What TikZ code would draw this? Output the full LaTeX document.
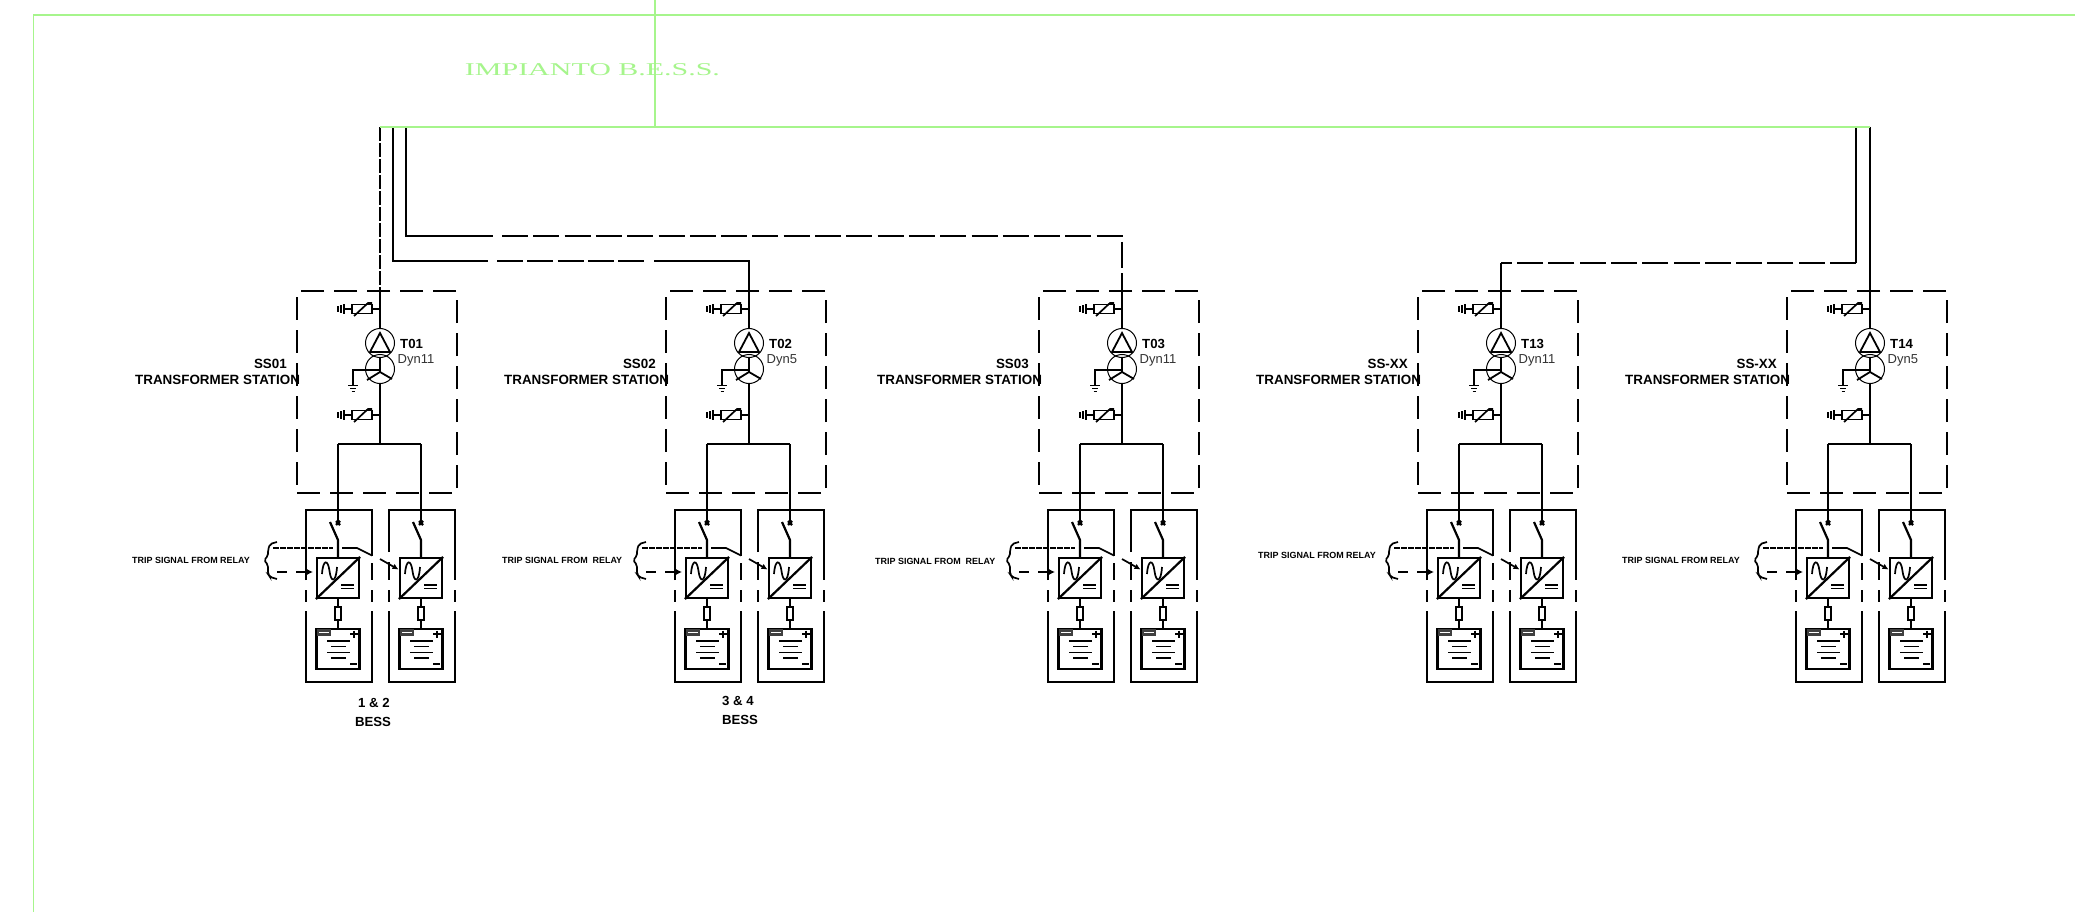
\documentclass[tikz,border=0pt]{standalone}
\usepackage{fontspec}
\setmainfont{Liberation Sans}
\newfontfamily\serifgreen{Liberation Serif}
\usetikzlibrary{arrows.meta}
\definecolor{cadgreen}{HTML}{A6F58C}
\tikzset{
  wire/.style={line width=2.2pt,black},
  thinwire/.style={line width=1.7pt,black},
  feedline/.style={wire,dash pattern=on 26pt off 5.3pt},
  feedlineb/.style={wire,dash pattern=on 26pt off 4.3pt},
  sideline/.style={line width=2.2pt,black},
  stationbox/.style={line width=2.2pt,draw,dash pattern=on 23pt off 10pt},
  frameline/.style={line width=1.3pt,cadgreen},
  winding/.style={circle,draw,line width=1pt,minimum size=29pt,inner sep=0pt},
  squarebox/.style={rectangle,draw,line width=2.2pt,inner sep=0pt},
  lab/.style={inner sep=0pt,font=\fontsize{13.2}{14}\selectfont\bfseries},
  stationlab/.style={inner sep=0pt,font=\fontsize{13.4}{14}\selectfont\bfseries},
  triplab/.style={inner sep=0pt,anchor=west,font=\fontsize{8.95}{10}\selectfont\bfseries},
  arrowline/.style={thinwire,-{Latex[length=6pt,width=6pt]}},
}
% surge arrester: #1 is y, #2 is node name
\newcommand{\surgearrester}[2]{%
  \node[rectangle,draw,line width=1.7pt,minimum width=20pt,minimum height=9pt,inner sep=0pt] (#2) at (362,#1) {};
  \draw[thinwire] (#2.east) -- (380,#1);
  \draw[thinwire] (#2.west) -- (344,#1);
  \draw[thinwire] (354,#1+7) -- (368,#1-6) -- (372,#1-6);
  \draw[thinwire] (344,#1-5) -- (344,#1+5);
  \draw[thinwire] (341,#1-4) -- (341,#1+4);
  \draw[thinwire] (338,#1-3) -- (338,#1+3);
}
% inverter, fuse, battery: #1 x shift, #2 name
\newcommand{\bessunit}[2]{%
  \begin{scope}[xshift=#1pt]
    \node[squarebox,minimum width=42pt,minimum height=40pt] (#2inv) at (338,578) {};
    \node[squarebox,minimum width=43pt,minimum height=40pt] (#2bat) at (338,649) {};
    \node[rectangle,draw,line width=1.3pt,minimum width=6pt,minimum height=13pt,inner sep=0pt] (#2fuse) at (338,613.5) {};
    \coordinate (#2sw) at (338,540);
    \coordinate (#2bus) at (338,444);
    \draw[wire] (#2bus) -- (338,523);
    \draw[wire] (336,521) -- (340,525) (340,521) -- (336,525);
    \draw[wire] (330,522) -- (#2sw) -- (#2inv.north);
    \draw[wire] (#2inv.south) -- (#2fuse.north);
    \draw[wire] (#2fuse.south) -- (#2bat.north);
    \draw[wire] (#2inv.south west) -- (#2inv.north east);
    \draw[thinwire] (322,574) .. controls (323,559) and (328,559) .. (329.5,571) .. controls (331,583) and (336,583) .. (337,567);
    \draw[thinwire] (341,585) -- (354,585) (341,588.5) -- (354,588.5);
    \fill[black!75] (316.5,629) rectangle (331,635.5);
    \draw[white,line width=.8pt] (319,632.2) -- (329,632.2);
    \draw[thinwire] (350,634) -- (358,634) (354,630.5) -- (354,638);
    \draw[thinwire] (350,664) -- (357,664);
    \draw[thinwire] (327,641) -- (350,641) (331,646.5) -- (346,646.5)
                    (327,652.5) -- (350,652.5) (331,658) -- (346,658);
  \end{scope}%
}
% #1 dx, #2 id, #3 T label, #4 Dyn, #5 SS, #6 trip text, #7 trip x, #8 trip y
\newcommand{\substation}[8]{%
  \begin{scope}[xshift=#1pt]
    \node[stationbox,minimum width=160pt,minimum height=202pt,inner sep=0pt] (#2box) at (377,392) {};
    \coordinate (#2in) at (380,291);
    \node[winding] (#2hv) at (380,343) {};
    \node[winding] (#2lv) at (380,369) {};
    \surgearrester{309}{#2sa}
    \surgearrester{415}{#2sb}
    \draw[wire] (#2in) -- (#2hv.north);
    \draw[line width=1.8pt] (380,333) -- (370,352) -- (390,352) -- cycle;
    \draw[line width=1.8pt] (380,358) -- (380,372) -- (367,380) (380,372) -- (392,379);
    \coordinate (#2gnd) at (353,385);
    \draw[thinwire] (380,370) -- (353,370) -- (#2gnd);
    \draw[thinwire] (348,385.5) -- (358,385.5) (350,388.5) -- (356,388.5) (351.5,391.5) -- (354.5,391.5);
    \coordinate (#2busc) at (380,444);
    \draw[wire] (#2lv.south) -- (#2busc);
    \draw[wire] (338,444) -- (421,444);
    \node[lab,anchor=west] at (400,344) {#3};
    \node[inner sep=0pt,anchor=west,text=black!80,font=\fontsize{13}{14}\selectfont] at (397.5,360) {#4};
    \node[stationlab,anchor=east] at (287,364) {#5};
    \node[stationlab,anchor=west] at (135,380) {TRANSFORMER STATION};
    \node[triplab] at (#7,#8) {#6};
    \bessunit{0}{#2a}
    \bessunit{83}{#2b}
    % enclosures
    \draw[sideline] (306,580) -- (306,510) -- (372,510) -- (372,556);
    \draw[sideline] (372,563) -- (372,580) (306,590) -- (306,602) (372,590) -- (372,602);
    \draw[sideline] (306,611) -- (306,682) -- (372,682) -- (372,611);
    \draw[sideline] (389,552) -- (389,510) -- (455,510) -- (455,580);
    \draw[sideline] (389,562) -- (389,580) (389,590) -- (389,602) (455,590) -- (455,602);
    \draw[sideline] (389,611) -- (389,682) -- (455,682) -- (455,611);
    % trip bracket
    \draw[thinwire,rounded corners=2pt] (277,542) -- (270,544) -- (268,550) -- (268,556) -- (264,560) -- (268,565) -- (268,574) -- (270,577) -- (277,579);
    \coordinate (#2ta) at (273,548);
    \coordinate (#2tb) at (333,548);
    \coordinate (#2tc) at (342,548);
    \coordinate (#2td) at (357,548);
    \coordinate (#2te) at (372,555.5);
    \draw[line width=1.5pt,dash pattern=on 6pt off 1pt] (#2ta) -- (#2tb);
    \draw[thinwire] (#2tc) -- (#2td) -- (#2te);
    \coordinate (#2tf) at (380,559);
    \draw[arrowline] (#2tf) -- (398.5,569.5);
    \coordinate (#2tg) at (277,572);
    \coordinate (#2th) at (287,572);
    \coordinate (#2ti) at (296,572);
    \draw[thinwire] (#2tg) -- (#2th);
    \draw[arrowline] (#2ti) -- (313,572);
  \end{scope}%
}
\begin{document}
\begin{tikzpicture}[x=1pt,y=-1pt]
\useasboundingbox (0,0) rectangle (2075,912);
\fill[white] (0,0) rectangle (2075,912);

\substation{0}{m}{T01}{Dyn11}{SS01}{TRIP SIGNAL FROM RELAY}{132}{560}
\substation{369}{n}{T02}{Dyn5}{SS02}{TRIP SIGNAL FROM\ \ RELAY}{133}{560}
\substation{742}{o}{T03}{Dyn11}{SS03}{TRIP SIGNAL FROM\ \ RELAY}{133}{561}
\substation{1121}{p}{T13}{Dyn11}{SS-XX}{TRIP SIGNAL FROM RELAY}{137}{555}
\substation{1490}{q}{T14}{Dyn5}{SS-XX}{TRIP SIGNAL FROM RELAY}{132}{560}

% busbar tap points
\coordinate (g1) at (380,127);
\coordinate (g2) at (393,127);
\coordinate (g3) at (406,127);
\coordinate (g4) at (1856,127);
\coordinate (g5) at (1870,127);
\coordinate (c2a) at (393,261);
\coordinate (c2b) at (488,261);
\coordinate (c2c) at (497,261);
\coordinate (c2e) at (645,261);
\coordinate (c2f) at (654,261);
\coordinate (c2d) at (749,261);
\coordinate (c3a) at (406,236);
\coordinate (c3b) at (493,236);
\coordinate (c3c) at (502,236);
\coordinate (c3d) at (1122,236);
\coordinate (c4a) at (1856,263);
\coordinate (c4b) at (1501,263);

\draw[wire,dash pattern=on 14pt off 2pt] (g1) -- (380,309);
\draw[wire] (g2) -- (c2a) -- (c2b);
\draw[feedlineb] (c2c) -- (c2e);
\draw[wire] (c2f) -- (c2d) -- (nin);
\draw[wire] (g3) -- (c3a) -- (c3b);
\draw[feedline] (c3c) -- (c3d) -- (oin);
\draw[wire] (g4) -- (c4a);
\draw[feedline] (c4a) -- (c4b);
\draw[wire] (c4b) -- (pin);
\draw[wire] (g5) -- (qin);

% green frame
\coordinate (f1) at (2075,15);
\coordinate (f2) at (33.5,15);
\coordinate (f3) at (33.5,912);
\coordinate (f4) at (655,0);
\coordinate (f5) at (655,127);
\draw[frameline] (f1) -- (f2) -- (f3);
\draw[frameline] (f4) -- (f5);
\draw[frameline] (g1) -- (g5);
\node[inner sep=0pt,text=cadgreen,font=\serifgreen\fontsize{18}{20}\selectfont,xscale=1.665] (title) at (592.5,70) {IMPIANTO B.E.S.S.};

\node[lab] (lbl1) at (374,703) {1 \& 2};
\node[lab] (lbl1b) at (373,722) {BESS};
\node[lab] (lbl2) at (738,701) {3 \& 4};
\node[lab] (lbl2b) at (740,720) {BESS};
\end{tikzpicture}
\end{document}
